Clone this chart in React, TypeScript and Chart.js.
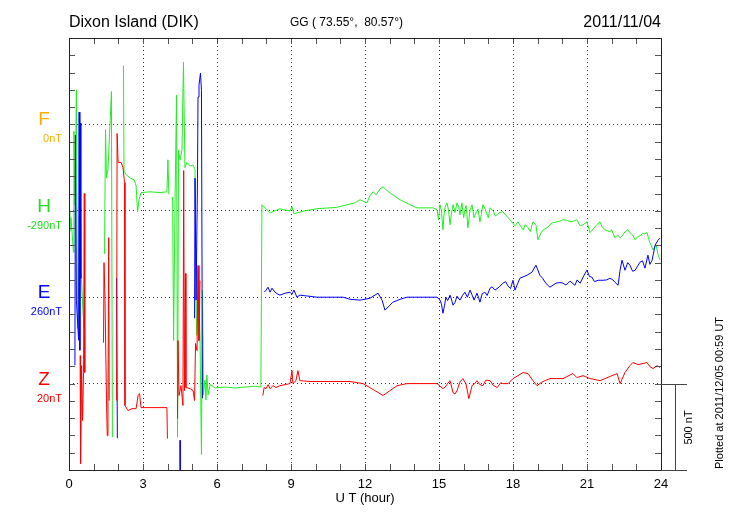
import { useEffect, useRef } from 'react';
import { Chart, registerables } from 'chart.js';

Chart.register(...registerables);

const FONT = '"Liberation Sans", Arial, Helvetica, sans-serif';

// X axis (UT hours)
const X_MIN = 0;
const X_MAX = 24;
const HOUR_TICKS = [0, 1, 2, 3, 4, 5, 6, 7, 8, 9, 10, 11, 12, 13, 14, 15, 16, 17, 18, 19, 20, 21, 22, 23, 24];
const X_LABEL_HOURS = [0, 3, 6, 9, 12, 15, 18, 21, 24];
const GRID_HOURS = [3, 6, 9, 12, 15, 18, 21];

// Y axis (stacked nT)
const Y_MIN = -500;
const Y_MAX = 2000;
const Y_MINOR_STEP = 100;
const SCALE_BAR_NT = 500;

// Components
const COMPONENTS = ['F', 'H', 'E', 'Z'];
const BASELINE_OFFSETS = [1500, 1000, 500, 0];
const BASELINE_LABELS = ['0nT', '-290nT', '260nT', '20nT'];
const COMPONENT_COLORS = ['#f7ae00', '#22dd22', '#0000ff', '#ff0000'];
const LINE_COLORS = { H: '#22ee22', E: '#0000ff', Z: '#ff0000' };

// Deviations from baseline (nT) at UT hour; null = data gap
const H_SERIES: [number, number | null][] = [
  [0.01, 5], [0.03, -120], [0.08, -40], [0.18, -240], [0.2, 460], [0.24, 35], [0.3, 700], [0.34, -680], [0.41, -230], [0.45, 320], [0.49, -350], [0.57, -590], [0.61, -680], [0.62, null],
  [1.44, -250], [1.48, 470], [1.52, 190], [1.58, 240], [1.66, 490], [1.72, 690], [1.76, -1310], [1.8, null],
  [2.21, 840], [2.23, 230], [2.31, 210], [2.47, 190], [2.64, 180], [2.72, 145], [2.78, -5], [2.84, 65], [2.92, 105], [3.28, 110], [3.69, 105], [3.97, 110], [4.01, 295], [4.05, 95], [4.1, null],
  [4.2, 80], [4.24, -750], [4.3, 65], [4.36, 670], [4.4, -1310], [4.44, 350], [4.5, 295], [4.58, 350], [4.64, 860], [4.7, 250], [4.78, 280], [4.91, 260], [5.03, 265], [5.11, 240], [5.17, -720], [5.23, -340], [5.31, -720], [5.37, -1410], [5.41, -460], [5.45, -1065], [5.51, -980], [5.55, -1095], [5.59, -950], [5.64, -1065], [5.72, -1005], [5.92, -1025], [6.32, -1020], [6.73, -1025], [7.14, -1020], [7.54, -1015], [7.78, -1020],
  [7.82, 35], [7.86, 30], [8.15, -12], [8.55, 12], [8.68, 6], [8.96, 0], [9.04, 23], [9.12, -17], [9.24, -12], [9.57, 0], [10.05, 12], [10.86, 20], [11.27, 35], [11.59, 46], [11.8, 64], [12.08, 46], [12.2, 87], [12.33, 110], [12.45, 93], [12.61, 127], [12.73, 139], [12.85, 122], [13.01, 104], [13.42, 64], [13.82, 35], [14.11, 17], [14.76, 17],
  [14.92, 6], [14.98, -52], [15.04, 35], [15.1, 0], [15.16, -110], [15.2, -30], [15.24, 17], [15.32, 46], [15.38, 10], [15.45, -81], [15.5, -20], [15.57, 35], [15.65, -10], [15.73, 46], [15.8, 20], [15.85, -23], [15.93, 46], [16.0, -40], [16.05, 6], [16.1, 30], [16.17, -98], [16.26, 6], [16.34, 35], [16.42, -40], [16.5, -12], [16.58, 10], [16.66, -64], [16.72, -20], [16.78, 35], [16.87, 10], [16.95, -23], [17.0, -40], [17.07, 17], [17.2, 0], [17.28, -30], [17.36, -23], [17.45, -10], [17.59, -6],
  [17.88, -52], [18.08, -87], [18.2, -64], [18.41, -110], [18.5, -80], [18.61, -98], [18.7, -120], [18.81, -64], [18.93, -81], [19.01, -168], [19.14, -127], [19.22, -110], [19.38, -98], [19.5, -81], [19.6, -70], [19.78, -64], [19.9, -60], [20.03, -52], [20.2, -55], [20.31, -64], [20.45, -60], [20.59, -52], [20.72, -87], [20.84, -81], [21.0, -64], [21.12, -127], [21.32, -93], [21.4, -80], [21.53, -64], [21.6, -90], [21.73, -110], [21.93, -122], [22.0, -110], [22.13, -156], [22.25, -140], [22.34, -156], [22.45, -140], [22.54, -122], [22.65, -110], [22.74, -127], [22.85, -140], [22.95, -168], [23.05, -150], [23.15, -145], [23.25, -130], [23.35, -133], [23.43, -127], [23.55, -185], [23.68, -226], [23.8, -197], [23.88, -255], [23.96, -284],
];

const E_SERIES: [number, number | null][] = [
  [0, 52], [0.02, 29], [0.03, null],
  [0.24, -394], [0.26, 938], [0.3, -17], [0.39, -249], [0.41, 1071], [0.44, -307], [0.46, 1007], [0.48, 110], [0.5, null],
  [1.93, 110], [1.96, -816], [1.98, null],
  [4.5, -828], [4.51, -1117], [4.52, null],
  [5.09, -122], [5.11, 689], [5.15, -17], [5.21, 689], [5.23, 1158], [5.27, 1227], [5.33, 1297], [5.37, 1198], [5.41, -585], [5.43, null],
  [7.91, 29], [7.99, 41], [8.07, 58], [8.15, 29], [8.23, 52], [8.35, 29], [8.47, 17], [8.55, 12], [8.76, 23], [8.96, 29], [9.04, 17], [9.12, 41], [9.24, 0], [9.36, 12], [10.05, 0], [11.11, 0], [11.39, -12], [11.8, -17], [12.2, -6], [12.53, 23], [12.69, -17], [12.81, -75], [13.01, -46], [13.13, -29], [13.42, -12], [13.7, 0], [14.92, 0],
  [15.04, -17], [15.1, -40], [15.16, -93], [15.22, -50], [15.28, 0], [15.35, -20], [15.45, 12], [15.5, -10], [15.57, -46], [15.65, -30], [15.73, 6], [15.85, -17], [15.95, 10], [16.05, 29], [16.15, 0], [16.26, 41], [16.35, 10], [16.42, -17], [16.54, 23], [16.6, 0], [16.66, -29], [16.75, 20], [16.86, 29], [16.95, 10], [17.07, 52], [17.15, 60], [17.27, 41], [17.45, 60], [17.59, 81], [17.7, 90], [17.8, 64], [17.9, 50], [18.0, 98], [18.08, 41], [18.28, 110], [18.57, 127], [18.77, 145], [18.93, 185], [19.09, 127], [19.2, 110], [19.3, 87], [19.4, 70], [19.5, 58], [19.74, 81], [19.9, 85], [20.03, 81], [20.15, 70], [20.31, 93], [20.51, 69], [20.6, 100], [20.72, 81], [20.88, 127], [21.0, 156], [21.1, 120], [21.2, 116], [21.3, 90], [21.45, 98], [21.65, 98], [21.8, 100], [21.93, 110], [22.05, 100], [22.13, 87], [22.26, 69], [22.34, 156], [22.42, 214], [22.54, 156], [22.65, 200], [22.74, 185], [22.85, 150], [22.95, 156], [23.05, 180], [23.15, 203], [23.25, 210], [23.35, 168], [23.47, 243], [23.55, 190], [23.64, 214], [23.76, 301], [23.88, 330], [23.96, 342],
];

const Z_SERIES: [number, number | null][] = [
  [0, -12], [0.02, -29], [0.03, null],
  [0.45, 162], [0.47, -463], [0.51, 104], [0.55, -214], [0.59, 64], [0.62, 1100], [0.64, 64], [0.66, null],
  [1.4, 237], [1.42, 700], [1.46, 480], [1.52, -87], [1.55, -301], [1.58, -110], [1.61, 845], [1.63, -98], [1.65, null],
  [1.93, -98], [1.95, 1447], [1.99, 1280], [2.11, 1280], [2.19, 1250], [2.25, 1163], [2.27, -127], [2.39, -156], [2.55, -145], [2.72, -145], [2.8, -69], [2.86, -58], [2.92, -139], [3.28, -139], [3.69, -139], [3.97, -139], [3.99, -318], [4.01, null],
  [4.4, -203], [4.42, 249], [4.46, -69], [4.54, -12], [4.62, -127], [4.65, 1233], [4.68, -41], [4.72, 637], [4.74, -23], [4.91, -29], [5.03, -41], [5.09, -98], [5.13, 232], [5.19, 191], [5.23, 683], [5.27, 249], [5.31, 596], [5.33, null],
  [7.86, -69], [7.91, -23], [7.99, -29], [8.07, -6], [8.15, -29], [8.27, -12], [8.39, -23], [8.55, -12], [8.76, -6], [8.96, 0], [9.04, 75], [9.08, 0], [9.2, 17], [9.28, 75], [9.36, 17], [9.77, 12], [10.58, 12], [11.39, 12], [11.92, 0], [12.41, -41], [12.73, -69], [13.01, -41], [13.3, -12], [13.7, 0], [14.92, 0],
  [15.16, -29], [15.25, -20], [15.32, -6], [15.4, 10], [15.45, 17], [15.57, -52], [15.65, -60], [15.73, -41], [15.85, 10], [15.97, 29], [16.0, 20], [16.09, 0], [16.21, -87], [16.34, -12], [16.45, 0], [16.54, 17], [16.65, -5], [16.78, -12], [16.9, 20], [17.07, 17], [17.2, -10], [17.36, -23], [17.5, 5], [17.59, 0], [17.8, 0],
  [18.0, 29], [18.2, 46], [18.41, 64], [18.61, 58], [18.81, 17], [18.97, -12], [19.14, 6], [19.3, 17], [19.5, 29], [19.78, 29], [20.03, 29], [20.19, 41], [20.43, 58], [20.59, 35], [20.84, 46], [21.12, 29], [21.53, 17], [21.73, 29], [21.93, 41], [22.22, 58], [22.34, 0], [22.54, 64], [22.74, 104], [22.86, 122], [23.07, 110], [23.27, 116], [23.43, 122], [23.55, 98], [23.68, 87], [23.84, 104], [23.96, 93],
];

const STATION_TITLE = 'Dixon Island (DIK)';
const COORD_TITLE = 'GG ( 73.55°,  80.57°)';
const DATE_TITLE = '2011/11/04';
const X_TITLE = 'U T (hour)';
const PLOTTED_NOTE = 'Plotted at 2011/12/05 00:59 UT';
const SCALE_BAR_LABEL = '500 nT';

function toPoints(series: [number, number | null][], offset: number) {
  return series.map(([t, v]) => ({ x: t, y: v === null ? null : v + offset }));
}

const decorPlugin = {
  id: 'decor',
  afterDraw(chart: any) {
    const { ctx, chartArea, scales } = chart;
    const { left, right, top, bottom } = chartArea;
    const xs = scales.x;
    const ys = scales.y;
    ctx.save();

    // inner ticks
    ctx.strokeStyle = '#555';
    ctx.lineWidth = 1;
    ctx.beginPath();
    for (const h of HOUR_TICKS) {
      if (h === X_MIN || h === X_MAX) continue;
      const px = Math.round(xs.getPixelForValue(h)) + 0.5;
      ctx.moveTo(px, bottom);
      ctx.lineTo(px, bottom - 6);
      ctx.moveTo(px, top);
      ctx.lineTo(px, top + 6);
    }
    for (let v = Y_MIN + Y_MINOR_STEP; v < Y_MAX; v += Y_MINOR_STEP) {
      const py = Math.round(ys.getPixelForValue(v)) + 0.5;
      ctx.moveTo(left, py);
      ctx.lineTo(left + 6, py);
      ctx.moveTo(right, py);
      ctx.lineTo(right - 6, py);
    }
    ctx.stroke();

    // frame
    ctx.strokeStyle = '#222';
    ctx.strokeRect(Math.round(left) + 0.5, Math.round(top) + 0.5, Math.round(right - left), Math.round(bottom - top));

    // scale bar (500 nT)
    const y0 = Math.round(ys.getPixelForValue(0)) + 0.5;
    const y1 = Math.round(ys.getPixelForValue(-SCALE_BAR_NT)) + 0.5;
    ctx.strokeStyle = '#444';
    ctx.beginPath();
    ctx.moveTo(right, y0);
    ctx.lineTo(right + 26, y0);
    ctx.moveTo(right, y1);
    ctx.lineTo(right + 26, y1);
    ctx.moveTo(right + 14.5, y0);
    ctx.lineTo(right + 14.5, y1);
    ctx.stroke();

    ctx.fillStyle = '#000';
    ctx.save();
    ctx.translate(right + 28, (y0 + y1) / 2);
    ctx.rotate(-Math.PI / 2);
    ctx.font = `11px ${FONT}`;
    ctx.textAlign = 'center';
    ctx.textBaseline = 'middle';
    ctx.fillText(SCALE_BAR_LABEL, 0, 0);
    ctx.restore();

    ctx.save();
    ctx.translate(720, bottom - 1);
    ctx.rotate(-Math.PI / 2);
    ctx.font = `11px ${FONT}`;
    ctx.textAlign = 'left';
    ctx.textBaseline = 'middle';
    ctx.fillText(PLOTTED_NOTE, 0, 0);
    ctx.restore();

    // titles
    ctx.textBaseline = 'alphabetic';
    ctx.font = `16px ${FONT}`;
    ctx.textAlign = 'left';
    ctx.fillText(STATION_TITLE, left, 27);
    ctx.textAlign = 'right';
    ctx.fillText(DATE_TITLE, right, 27);
    ctx.font = `12px ${FONT}`;
    ctx.textAlign = 'left';
    ctx.fillText(COORD_TITLE, 290, 26);

    // component labels
    COMPONENTS.forEach((c, i) => {
      const py = ys.getPixelForValue(BASELINE_OFFSETS[i]);
      ctx.fillStyle = COMPONENT_COLORS[i];
      ctx.font = `19px ${FONT}`;
      ctx.textAlign = 'center';
      ctx.fillText(c, 44, py + 1);
      ctx.font = `11px ${FONT}`;
      ctx.textAlign = 'right';
      ctx.fillText(BASELINE_LABELS[i], 62, py + 18);
    });

    ctx.restore();
  },
};

export default function App() {
  const canvasRef = useRef<HTMLCanvasElement | null>(null);

  useEffect(() => {
    if (!canvasRef.current) return;
    Chart.defaults.font.family = FONT;
    const ds = (label: string, series: [number, number | null][], offset: number, color: string) => ({
      label,
      data: toPoints(series, offset),
      borderColor: color,
      backgroundColor: color,
      borderWidth: 1,
      pointRadius: 0,
      spanGaps: false,
      tension: 0,
    });
    const chart = new Chart(canvasRef.current, {
      type: 'line',
      data: {
        datasets: [
          ds('Z', Z_SERIES, BASELINE_OFFSETS[3], LINE_COLORS.Z),
          ds('E', E_SERIES, BASELINE_OFFSETS[2], LINE_COLORS.E),
          ds('H', H_SERIES, BASELINE_OFFSETS[1], LINE_COLORS.H),
        ],
      },
      options: {
        responsive: false,
        maintainAspectRatio: false,
        animation: false,
        layout: { padding: { left: 69, right: 69, top: 38, bottom: 0 } },
        plugins: { legend: { display: false }, tooltip: { enabled: false } },
        scales: {
          x: {
            type: 'linear',
            min: X_MIN,
            max: X_MAX,
            afterBuildTicks: (s: any) => {
              s.ticks = HOUR_TICKS.map((v) => ({ value: v }));
            },
            afterFit: (s: any) => {
              s.height = 50;
            },
            ticks: {
              autoSkip: false,
              maxRotation: 0,
              padding: 7,
              color: '#000',
              font: { size: 13, family: FONT },
              callback: (v: any) => (X_LABEL_HOURS.includes(Number(v)) ? String(v) : ''),
            },
            grid: {
              drawTicks: false,
              lineWidth: 1,
              color: (c: any) => (GRID_HOURS.includes(c.tick?.value) ? '#333' : 'rgba(0,0,0,0)'),
            },
            border: { display: false, dash: [1, 3] },
            title: {
              display: true,
              text: X_TITLE,
              color: '#000',
              font: { size: 13, family: FONT },
              padding: { top: 0, bottom: 14 },
            },
          },
          y: {
            type: 'linear',
            min: Y_MIN,
            max: Y_MAX,
            afterBuildTicks: (s: any) => {
              s.ticks = BASELINE_OFFSETS.map((v) => ({ value: v }));
            },
            afterFit: (s: any) => {
              s.width = 0;
            },
            ticks: { display: false },
            grid: { drawTicks: false, lineWidth: 1, color: '#333' },
            border: { display: false, dash: [1, 3] },
          },
        },
      },
      plugins: [decorPlugin],
    } as any);
    return () => chart.destroy();
  }, []);

  return (
    <div style={{ position: 'absolute', left: 0, top: 0, width: 730, height: 520, background: '#fff' }}>
      <canvas ref={canvasRef} width={730} height={520} style={{ display: 'block', width: 730, height: 520 }} />
    </div>
  );
}
